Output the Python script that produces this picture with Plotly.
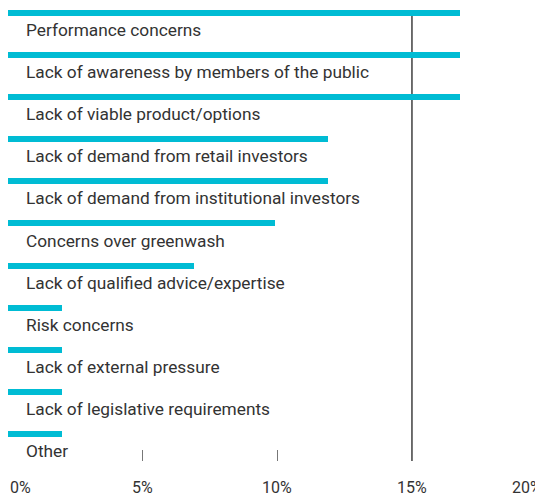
import plotly.graph_objects as go

categories = [
    "Performance concerns",
    "Lack of awareness by members of the public",
    "Lack of viable product/options",
    "Lack of demand from retail investors",
    "Lack of demand from institutional investors",
    "Concerns over greenwash",
    "Lack of qualified advice/expertise",
    "Risk concerns",
    "Lack of external pressure",
    "Lack of legislative requirements",
    "Other",
]
values = [16.8, 16.8, 16.8, 11.9, 11.9, 9.9, 6.9, 2.0, 2.0, 2.0, 2.0]
tick_values = [0, 5, 10, 15, 20]
tick_labels = ["0%", "5%", "10%", "15%", "20%"]
minor_ticks = [5, 10]
reference_line = 15
X_MAX = 19.866  # visible part of the 0-20% axis

BAR_COLOR = "#00BCD4"
TEXT_COLOR = "#333333"
FONT = "Roboto, Arial, sans-serif"

fig = go.Figure()
fig.add_trace(go.Bar(
    y=categories,
    x=values,
    orientation="h",
    marker=dict(color=BAR_COLOR, line=dict(width=0)),
    width=0.1425,
    offset=-0.5,
    hoverinfo="skip",
))

annotations = []
for c in categories:
    annotations.append(dict(
        x=0, y=c, xref="x", yref="y", text=c, showarrow=False,
        xanchor="left", yanchor="middle", xshift=16, yshift=1,
        font=dict(family=FONT, size=17.3, color=TEXT_COLOR),
    ))
for v, t in zip(tick_values, tick_labels):
    if v == tick_values[0]:
        anchor, shift = "left", 0
    elif v == tick_values[-1]:
        anchor, shift = "right", -3
    else:
        anchor, shift = "center", 0
    annotations.append(dict(
        x=v / X_MAX, y=0, xref="paper", yref="paper", text=t, showarrow=False,
        xanchor=anchor, yanchor="top", xshift=shift, yshift=-15,
        font=dict(family=FONT, size=16, color=TEXT_COLOR),
    ))

fig.add_shape(type="line", xref="x", yref="paper",
              x0=reference_line, x1=reference_line, y0=0, y1=1 - 6 / 451,
              line=dict(color="#222222", width=1.3), layer="below")

fig.update_layout(
    width=535, height=491,
    margin=dict(l=0, r=0, t=2, b=38),
    paper_bgcolor="white", plot_bgcolor="white",
    showlegend=False,
    bargap=0,
    annotations=annotations,
    xaxis=dict(
        range=[0, X_MAX], showgrid=False, zeroline=False, showline=False,
        tickmode="array", tickvals=minor_ticks, ticks="inside", ticklen=11,
        tickcolor="#777777", tickwidth=1, showticklabels=False,
    ),
    yaxis=dict(
        type="category", categoryorder="array", categoryarray=categories,
        range=[10.213, -0.5], showgrid=False, zeroline=False, showline=False,
        showticklabels=False, ticks="",
    ),
)

fig.write_html("out.html")
